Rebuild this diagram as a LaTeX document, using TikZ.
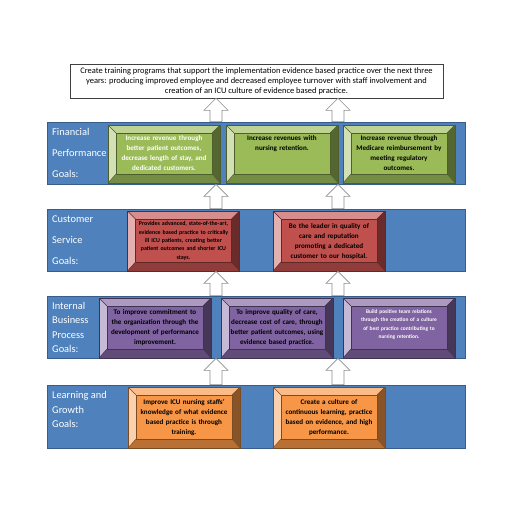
\documentclass[tikz,border=0pt]{standalone}
\usepackage{fontspec}
\setmainfont{Carlito}
\usetikzlibrary{calc,positioning}

\definecolor{bandblue}{HTML}{4F81BD}
\definecolor{bandline}{HTML}{385D8A}
\definecolor{fingreen}{HTML}{9BBB59}
\definecolor{cusred}{HTML}{C0504D}
\definecolor{intpurple}{HTML}{8064A2}
\definecolor{lrnorange}{HTML}{F79646}
\definecolor{arrowgray}{HTML}{8C8C8C}

\tikzset{
  band/.style={draw=bandline, fill=bandblue, line width=0.8pt,
    minimum width=418pt, minimum height=62pt, inner sep=0pt},
  bandlbl/.style={text=white, anchor=north west, inner sep=0pt, align=left,
    font=\fontsize{10.4}{21}\selectfont},
  bevel/.style={fill=#1, draw=#1!50!black, line width=0.6pt,
    minimum width=112pt, minimum height=60pt, inner sep=0pt,
    path picture={
      \coordinate (bvo1) at (path picture bounding box.north west);
      \coordinate (bvo2) at (path picture bounding box.north east);
      \coordinate (bvo3) at (path picture bounding box.south east);
      \coordinate (bvo4) at (path picture bounding box.south west);
      \coordinate (bvi1) at ($(bvo1)+(8pt,-8pt)$);
      \coordinate (bvi2) at ($(bvo2)+(-8pt,-8pt)$);
      \coordinate (bvi3) at ($(bvo3)+(-8pt,9pt)$);
      \coordinate (bvi4) at ($(bvo4)+(8pt,9pt)$);
      \fill[#1!65!white] (bvo1) -- (bvo2) -- (bvi2) -- (bvi1) -- cycle;
      \fill[#1!45!white] (bvo1) -- (bvi1) -- (bvi4) -- (bvo4) -- cycle;
      \fill[#1!55!black] (bvo2) -- (bvo3) -- (bvi3) -- (bvi2) -- cycle;
      \fill[#1!75!black] (bvo4) -- (bvi4) -- (bvi3) -- (bvo3) -- cycle;
      \draw[#1!50!black, line width=0.6pt] (bvi1) rectangle (bvi3);
      \draw[#1!50!black, line width=0.4pt] (bvo1) -- (bvi1) (bvo2) -- (bvi2) (bvo3) -- (bvi3) (bvo4) -- (bvi4);
    }},
  boxtxt/.style={inner sep=0pt, align=center, text width=104pt,
    font=\bfseries\fontsize{7.1}{10}\selectfont},
  smalltxt/.style={boxtxt, font=\bfseries\fontsize{5.9}{8.3}\selectfont},
  topbox/.style={draw=black!75, fill=white, line width=0.6pt, minimum width=373pt,
    minimum height=34pt, inner sep=0pt, align=center, font=\fontsize{8.45}{10}\selectfont},
  blockup/.style={draw=arrowgray, fill=white, line width=0.6pt,
    to path={let \p1=(\tikztostart), \p2=(\tikztotarget) in
      (\x1-6pt,\y1) -- (\x1-6pt,\y2-12pt) -- (\x1-12pt,\y2-12pt) -- (\x2,\y2)
      -- (\x1+12pt,\y2-12pt) -- (\x1+6pt,\y2-12pt) -- (\x1+6pt,\y1) -- cycle}}
}

\begin{document}
\begin{tikzpicture}[x=1pt,y=-1pt]
  \useasboundingbox (0,0) rectangle (512,512);
  \coordinate (xl) at (216,0);
  \coordinate (xr) at (338,0);

  \node[topbox] (top) at (256.5,81) {Create training programs that support the implementation evidence based practice over the next three\\
    years: producing improved employee and decreased employee turnover with staff involvement and\\
    creation of an ICU culture of evidence based practice.};

  % Financial
  \node[band] (fin) at (256,153) {};
  \node[bandlbl] (finlbl) at (52,128.3) {Financial\\Performance\\Goals:};
  \node[bevel=fingreen, minimum height=58pt] (f1) at (164,154) {};
  \node[bevel=fingreen, minimum height=58pt] (f2) at (282,154) {};
  \node[bevel=fingreen, minimum height=58pt] (f3) at (399,154) {};
  \node[boxtxt, text=white, below=11pt of f1.north] (f1t) {Increase revenue through\\ better patient outcomes,\\ decrease length of stay, and\\ dedicated customers.};
  \node[boxtxt, below=11pt of f2.north] (f2t) {Increase revenues with\\ nursing retention.};
  \node[boxtxt, below=11pt of f3.north] (f3t) {Increase revenue through\\ Medicare reimbursement by\\ meeting regulatory\\ outcomes.};

  % Customer
  \node[band] (cus) at (256,240) {};
  \node[bandlbl] (cuslbl) at (52,215.7) {Customer\\Service\\Goals:};
  \node[bevel=cusred] (c1) at (183.5,241) {};
  \node[bevel=cusred] (c2) at (329,241) {};
  \node[smalltxt, below=10.8pt of c1.north] (c1t) {Provides advanced, state-of-the-art,\\ evidence based practice to critically\\ ill ICU patients, creating better\\ patient outcomes and shorter ICU\\ stays.};
  \node[boxtxt, below=13pt of c2.north] (c2t) {Be the leader in quality of\\ care and reputation\\ promoting a dedicated\\ customer to our hospital.};

  % Internal business process
  \node[band] (int) at (256,327) {};
  \node[bandlbl, font=\fontsize{10.4}{14.5}\selectfont] (intlbl) at (52,302) {Internal\\Business\\Process\\Goals:};
  \node[bevel=intpurple] (p1) at (155,328) {};
  \node[bevel=intpurple] (p2) at (277,328) {};
  \node[bevel=intpurple] (p3) at (399,328) {};
  \node[boxtxt, below=12pt of p1.north] (p1t) {To improve commitment to\\ the organization through the\\ development of performance\\ improvement.};
  \node[boxtxt, below=12pt of p2.north] (p2t) {To improve quality of care,\\ decrease cost of care, through\\ better patient outcomes, using\\ evidence based practice.};
  \node[smalltxt, text=white, font=\bfseries\fontsize{5.4}{8.5}\selectfont, below=11.7pt of p3.north] (p3t) {Build positive team relations\\ through the creation of a culture\\ of best practice contributing to\\ nursing retention.};

  % Learning and growth
  \node[band, minimum height=63pt] (lrn) at (256,416.5) {};
  \node[bandlbl, font=\fontsize{10.4}{14.5}\selectfont] (lrnlbl) at (52,391.3) {Learning and\\Growth\\Goals:};
  \node[bevel=lrnorange, minimum height=61pt] (l1) at (184,417.5) {};
  \node[bevel=lrnorange, minimum height=61pt] (l2) at (329,417.5) {};
  \node[boxtxt, below=12.3pt of l1.north] (l1t) {Improve ICU nursing staffs'\\ knowledge of what evidence\\ based practice is through\\ training.};
  \node[boxtxt, below=12.3pt of l2.north] (l2t) {Create a culture of\\ continuous learning, practice\\ based on evidence, and high\\ performance.};

  % arrows up
  \draw[blockup] (fin.north -| xl) to (top.south -| xl);
  \draw[blockup] (fin.north -| xr) to (top.south -| xr);
  \draw[blockup] (cus.north -| xl) to (fin.south -| xl);
  \draw[blockup] (cus.north -| xr) to (fin.south -| xr);
  \draw[blockup] (int.north -| xl) to (cus.south -| xl);
  \draw[blockup] (int.north -| xr) to (cus.south -| xr);
  \draw[blockup] (lrn.north -| xl) to (int.south -| xl);
  \draw[blockup] (lrn.north -| xr) to (int.south -| xr);
\end{tikzpicture}
\end{document}
